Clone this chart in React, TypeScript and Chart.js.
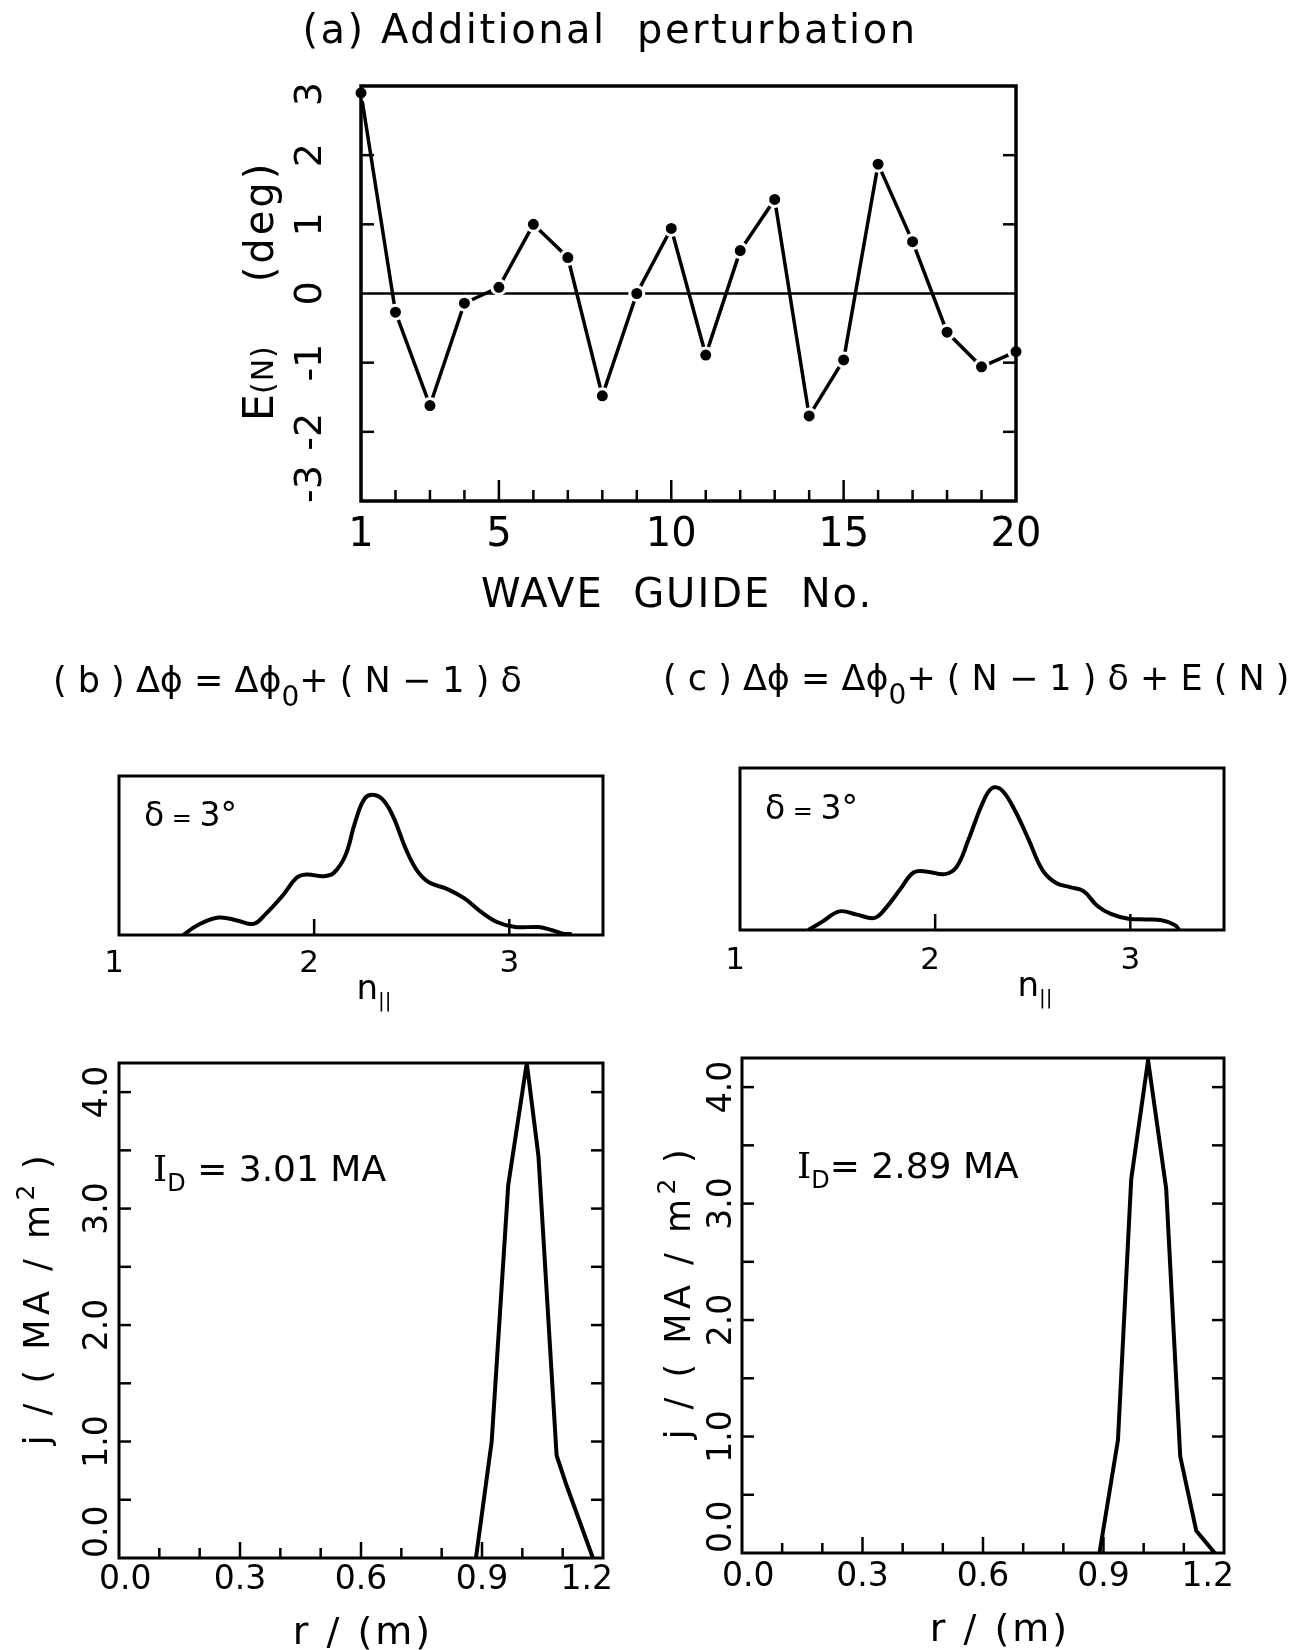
import React, { useEffect, useRef } from "react";
import { Chart, registerables } from "chart.js";

Chart.register(...registerables);

const PAGE_W = 1298;
const PAGE_H = 1650;
const SANS = '"DejaVu Sans", "Liberation Sans", sans-serif';
const SERIF = '"DejaVu Serif", "Liberation Serif", serif';

// ---------------- data ----------------
// (a) additional perturbation E(N) per wave guide
const waveGuideNumbers = [1, 2, 3, 4, 5, 6, 7, 8, 9, 10, 11, 12, 13, 14, 15, 16, 17, 18, 19, 20];
const perturbationDeg = [2.9, -0.27, -1.62, -0.14, 0.09, 1.0, 0.52, -1.48, 0.0, 0.94, -0.89, 0.62, 1.36, -1.77, -0.96, 1.87, 0.75, -0.56, -1.06, -0.84];
const aXTickLabels = [1, 5, 10, 15, 20];
const aYTickLabels = [-3, -2, -1, 0, 1, 2, 3];

// (b) n_parallel spectrum
const nParB = [1.33, 1.4, 1.51, 1.61, 1.69, 1.75, 1.84, 1.91, 1.96, 2.05, 2.1, 2.16, 2.21, 2.26, 2.31, 2.36, 2.41, 2.47, 2.53, 2.59, 2.68, 2.77, 2.85, 2.94, 3.03, 3.15, 3.22, 3.27, 3.32];
const powerB = [0, 0.06, 0.11, 0.09, 0.07, 0.13, 0.25, 0.36, 0.38, 0.37, 0.39, 0.5, 0.71, 0.86, 0.88, 0.84, 0.73, 0.54, 0.4, 0.33, 0.29, 0.23, 0.15, 0.08, 0.05, 0.05, 0.03, 0.01, 0.005];
// (c) n_parallel spectrum
const nParC = [1.35, 1.42, 1.51, 1.6, 1.69, 1.75, 1.82, 1.89, 1.96, 2.05, 2.11, 2.17, 2.24, 2.29, 2.34, 2.41, 2.48, 2.55, 2.62, 2.69, 2.76, 2.83, 2.9, 2.99, 3.08, 3.16, 3.23, 3.25];
const powerC = [0, 0.05, 0.115, 0.095, 0.075, 0.14, 0.25, 0.355, 0.36, 0.345, 0.39, 0.555, 0.775, 0.875, 0.865, 0.735, 0.555, 0.37, 0.29, 0.265, 0.24, 0.15, 0.1, 0.07, 0.065, 0.06, 0.03, 0];
const nParTickLabels = [1, 2, 3];

// current density profiles
const radiusB = [0.885, 0.924, 0.965, 1.011, 1.04, 1.085, 1.11, 1.175];
const currentB = [0, 1.0, 3.2, 4.25, 3.45, 0.88, 0.62, 0];
const radiusC = [0.89, 0.936, 0.969, 1.011, 1.056, 1.091, 1.131, 1.177];
const currentC = [0, 0.97, 3.21, 4.23, 3.13, 0.83, 0.19, 0];
const rTickLabels = ["0.0", "0.3", "0.6", "0.9", "1.2"];
const jTickLabels = ["0.0", "1.0", "2.0", "3.0", "4.0"];

// ---------------- drawing helpers ----------------
type Run = { t: string; size: number; dy?: number; family?: string; ls?: number };

function setFont(ctx: any, r: Run) {
  ctx.font = `${r.size}px ${r.family || SANS}`;
  ctx.letterSpacing = `${r.ls ?? 0}px`;
}

function runsWidth(ctx: any, runs: Run[]) {
  ctx.save();
  const w = runs.reduce((acc, r) => {
    setFont(ctx, r);
    return acc + ctx.measureText(r.t).width;
  }, 0);
  ctx.restore();
  return w;
}

function drawRuns(ctx: any, runs: Run[], x: number, y: number, align: "left" | "center" = "center", rotate = false) {
  ctx.save();
  ctx.translate(x, y);
  if (rotate) ctx.rotate(-Math.PI / 2);
  ctx.fillStyle = "#000";
  ctx.textAlign = "left";
  ctx.textBaseline = "alphabetic";
  const base = runs[0].size * 0.36;
  const widths = runs.map((r) => {
    setFont(ctx, r);
    return ctx.measureText(r.t).width;
  });
  const total = widths.reduce((a, b) => a + b, 0);
  let cx = align === "center" ? -total / 2 : 0;
  runs.forEach((r, i) => {
    setFont(ctx, r);
    ctx.fillText(r.t, cx, base + (r.dy || 0));
    cx += widths[i];
  });
  ctx.restore();
}

function clamp(v: number, lo: number, hi: number) {
  return Math.max(lo, Math.min(hi, v));
}

function seg(ctx: any, x1: number, y1: number, x2: number, y2: number, w = 2.5) {
  ctx.save();
  ctx.strokeStyle = "#000";
  ctx.lineWidth = w;
  ctx.beginPath();
  ctx.moveTo(x1, y1);
  ctx.lineTo(x2, y2);
  ctx.stroke();
  ctx.restore();
}

function frame(ctx: any, ca: any, w = 3) {
  ctx.save();
  ctx.strokeStyle = "#000";
  ctx.lineWidth = w;
  ctx.strokeRect(ca.left, ca.top, ca.right - ca.left, ca.bottom - ca.top);
  ctx.restore();
}

type Area = { left: number; top: number; right: number; bottom: number };

function makeChart(
  canvas: HTMLCanvasElement,
  area: Area,
  xr: [number, number],
  yr: [number, number],
  datasets: any[],
  decorate: (ctx: any, chart: any) => void,
  before?: (ctx: any, chart: any) => void
) {
  return new Chart(canvas, {
    type: "line",
    data: { datasets },
    options: {
      responsive: false,
      animation: false,
      events: [],
      layout: {
        padding: { left: area.left, top: area.top, right: PAGE_W - area.right, bottom: PAGE_H - area.bottom },
      },
      plugins: { legend: { display: false }, tooltip: { enabled: false }, title: { display: false } },
      scales: {
        x: { type: "linear", display: false, min: xr[0], max: xr[1] },
        y: { type: "linear", display: false, min: yr[0], max: yr[1] },
      },
    } as any,
    plugins: [
      {
        id: "deco",
        beforeDatasetsDraw(chart: any) {
          if (before) before(chart.ctx, chart);
        },
        afterDraw(chart: any) {
          decorate(chart.ctx, chart);
        },
      },
    ],
  });
}

const pts = (xs: number[], ys: number[]) => xs.map((x, i) => ({ x, y: ys[i] }));

// ---------------- panels ----------------
function panelA(canvas: HTMLCanvasElement) {
  const area = { left: 361, top: 86, right: 1016, bottom: 501 };
  return makeChart(
    canvas,
    area,
    [1, 20],
    [-3, 3],
    [
      {
        data: pts(waveGuideNumbers, perturbationDeg),
        borderColor: "#000",
        borderWidth: 3.5,
        tension: 0,
        pointRadius: 7,
        pointBorderWidth: 3,
        pointBorderColor: "#fff",
        pointBackgroundColor: "#000",
        clip: false,
      },
    ],
    (ctx, chart) => {
      const ca = chart.chartArea;
      const xs = chart.scales.x;
      const ys = chart.scales.y;
      frame(ctx, ca, 3.5);
      waveGuideNumbers.forEach((n) => {
        if (n === 1 || n === 20) return;
        const px = xs.getPixelForValue(n);
        seg(ctx, px, ca.bottom, px, ca.bottom - (n % 5 === 0 ? 21 : 11), 2.5);
      });
      aYTickLabels.forEach((v) => {
        if (v === -3 || v === 3 || v === 0) return;
        const py = ys.getPixelForValue(v);
        seg(ctx, ca.left, py, ca.left + 13, py, 2.5);
        seg(ctx, ca.right, py, ca.right - 13, py, 2.5);
      });
      aXTickLabels.forEach((v) => drawRuns(ctx, [{ t: String(v), size: 40 }], xs.getPixelForValue(v), 532));
      aYTickLabels.forEach((v) => {
        const run = [{ t: String(v), size: 38 }];
        const half = runsWidth(ctx, run) / 2;
        const py = clamp(ys.getPixelForValue(v), ca.top + half - 4, ca.bottom - half + 2);
        drawRuns(ctx, run, 307, py, "center", true);
      });
      drawRuns(ctx, [{ t: "(a) Additional  perturbation", size: 40, ls: 2.5 }], 610, 29);
      drawRuns(
        ctx,
        [
          { t: "E", size: 43 },
          { t: "(N)", size: 30, ls: 1 },
          { t: "    (deg)", size: 40, ls: 3 },
        ],
        258,
        291,
        "center",
        true
      );
      drawRuns(ctx, [{ t: "WAVE  GUIDE  No.", size: 40, ls: 2 }], 677, 593);
    },
    (ctx, chart) => {
      const ca = chart.chartArea;
      const y0 = chart.scales.y.getPixelForValue(0);
      seg(ctx, ca.left, y0, ca.right, y0, 2.5);
    }
  );
}

function panelSpectrum(
  canvas: HTMLCanvasElement,
  area: Area,
  xs: number[],
  ys: number[],
  title: Run[],
  titlePos: [number, number],
  deltaPos: [number, number],
  nPos: [number, number],
  labelY: number
) {
  return makeChart(
    canvas,
    area,
    [1, 3.48],
    [0, 1],
    [
      {
        data: pts(xs, ys),
        borderColor: "#000",
        borderWidth: 4,
        tension: 0.4,
        pointRadius: 0,
      },
    ],
    (ctx, chart) => {
      const ca = chart.chartArea;
      const sx = chart.scales.x;
      frame(ctx, ca, 3);
      [2, 3].forEach((v) => {
        const px = sx.getPixelForValue(v);
        seg(ctx, px, ca.bottom, px, ca.bottom - 16, 2.5);
      });
      nParTickLabels.forEach((v) =>
        drawRuns(ctx, [{ t: String(v), size: 31 }], sx.getPixelForValue(v) - (v < 3 ? 5 : 0), labelY)
      );
      drawRuns(ctx, title, titlePos[0], titlePos[1], "left");
      drawRuns(
        ctx,
        [
          { t: "δ", size: 33 },
          { t: " = ", size: 24 },
          { t: "3°", size: 33 },
        ],
        deltaPos[0],
        deltaPos[1],
        "left"
      );
      drawRuns(
        ctx,
        [
          { t: "n", size: 34 },
          { t: "||", size: 20, dy: 8 },
        ],
        nPos[0],
        nPos[1]
      );
    }
  );
}

function panelCurrent(
  canvas: HTMLCanvasElement,
  area: Area,
  xs: number[],
  ys: number[],
  idText: string,
  idPos: [number, number],
  yLabelX: number,
  yTitlePos: [number, number],
  xTitlePos: [number, number],
  xLabelY: number
) {
  return makeChart(
    canvas,
    area,
    [0, 1.2],
    [0, 4.25],
    [
      {
        data: pts(xs, ys),
        borderColor: "#000",
        borderWidth: 4,
        tension: 0,
        pointRadius: 0,
        borderJoinStyle: "miter",
      },
    ],
    (ctx, chart) => {
      const ca = chart.chartArea;
      const sx = chart.scales.x;
      const sy = chart.scales.y;
      frame(ctx, ca, 3);
      for (let i = 1; i <= 11; i++) {
        const px = sx.getPixelForValue(i / 10);
        seg(ctx, px, ca.bottom, px, ca.bottom - (i % 3 === 0 ? 16 : 10), 2.5);
      }
      for (let i = 1; i <= 8; i++) {
        const py = sy.getPixelForValue(i / 2);
        seg(ctx, ca.left, py, ca.left + 12, py, 2.5);
        seg(ctx, ca.right, py, ca.right - 12, py, 2.5);
      }
      rTickLabels.forEach((s) => {
        const run = [{ t: s, size: 33 }];
        const half = runsWidth(ctx, run) / 2;
        const px = clamp(sx.getPixelForValue(parseFloat(s)), ca.left + half - 20, ca.right - half + 10);
        drawRuns(ctx, run, px, xLabelY);
      });
      jTickLabels.forEach((s) => {
        const run = [{ t: s, size: 33 }];
        const half = runsWidth(ctx, run) / 2;
        const py = clamp(sy.getPixelForValue(parseFloat(s)), ca.top, ca.bottom - half);
        drawRuns(ctx, run, yLabelX, py, "center", true);
      });
      drawRuns(
        ctx,
        [
          { t: "j / ( MA / m", size: 35, ls: 4.5 },
          { t: "2", size: 25, dy: -15 },
          { t: " )", size: 35, ls: 4.5 },
        ],
        yTitlePos[0],
        yTitlePos[1],
        "center",
        true
      );
      drawRuns(ctx, [{ t: "r / (m)", size: 38, ls: 3 }], xTitlePos[0], xTitlePos[1]);
      drawRuns(
        ctx,
        [
          { t: "I", size: 36, family: SERIF },
          { t: "D", size: 24, dy: 10 },
          { t: idText, size: 36 },
        ],
        idPos[0],
        idPos[1],
        "left"
      );
    }
  );
}

export default function App() {
  const refA = useRef<HTMLCanvasElement>(null);
  const refB1 = useRef<HTMLCanvasElement>(null);
  const refC1 = useRef<HTMLCanvasElement>(null);
  const refB2 = useRef<HTMLCanvasElement>(null);
  const refC2 = useRef<HTMLCanvasElement>(null);

  useEffect(() => {
    const charts: Chart[] = [];
    charts.push(panelA(refA.current!));
    charts.push(
      panelSpectrum(
        refB1.current!,
        { left: 119, top: 776, right: 603, bottom: 935 },
        nParB,
        powerB,
        [
          { t: "( b ) Δϕ = Δϕ", size: 35 },
          { t: "0", size: 28, dy: 14 },
          { t: "+ ( N − 1 ) δ", size: 35 },
        ],
        [53, 679],
        [144, 814],
        [374, 987],
        961
      )
    );
    charts.push(
      panelSpectrum(
        refC1.current!,
        { left: 740, top: 768, right: 1224, bottom: 930 },
        nParC,
        powerC,
        [
          { t: "( c ) Δϕ = Δϕ", size: 35 },
          { t: "0", size: 28, dy: 14 },
          { t: "+ ( N − 1 ) δ + E ( N )", size: 35 },
        ],
        [663, 677],
        [765, 807],
        [1035, 984],
        958
      )
    );
    charts.push(
      panelCurrent(
        refB2.current!,
        { left: 119, top: 1063, right: 603, bottom: 1558 },
        radiusB,
        currentB,
        " = 3.01 MA",
        [153, 1168],
        95,
        [36, 1298],
        [363, 1630],
        1577
      )
    );
    charts.push(
      panelCurrent(
        refC2.current!,
        { left: 742, top: 1058, right: 1224, bottom: 1553 },
        radiusC,
        currentC,
        "= 2.89 MA",
        [797, 1165],
        719,
        [677, 1292],
        [1000, 1627],
        1574
      )
    );
    return () => charts.forEach((c) => c.destroy());
  }, []);

  const cs: React.CSSProperties = { position: "absolute", left: 0, top: 0, width: PAGE_W, height: PAGE_H };
  return (
    <div style={{ position: "absolute", left: 0, top: 0, width: PAGE_W, height: PAGE_H, overflow: "hidden", background: "#fff" }}>
      <canvas ref={refA} width={PAGE_W} height={PAGE_H} style={cs} />
      <canvas ref={refB1} width={PAGE_W} height={PAGE_H} style={cs} />
      <canvas ref={refC1} width={PAGE_W} height={PAGE_H} style={cs} />
      <canvas ref={refB2} width={PAGE_W} height={PAGE_H} style={cs} />
      <canvas ref={refC2} width={PAGE_W} height={PAGE_H} style={cs} />
    </div>
  );
}
